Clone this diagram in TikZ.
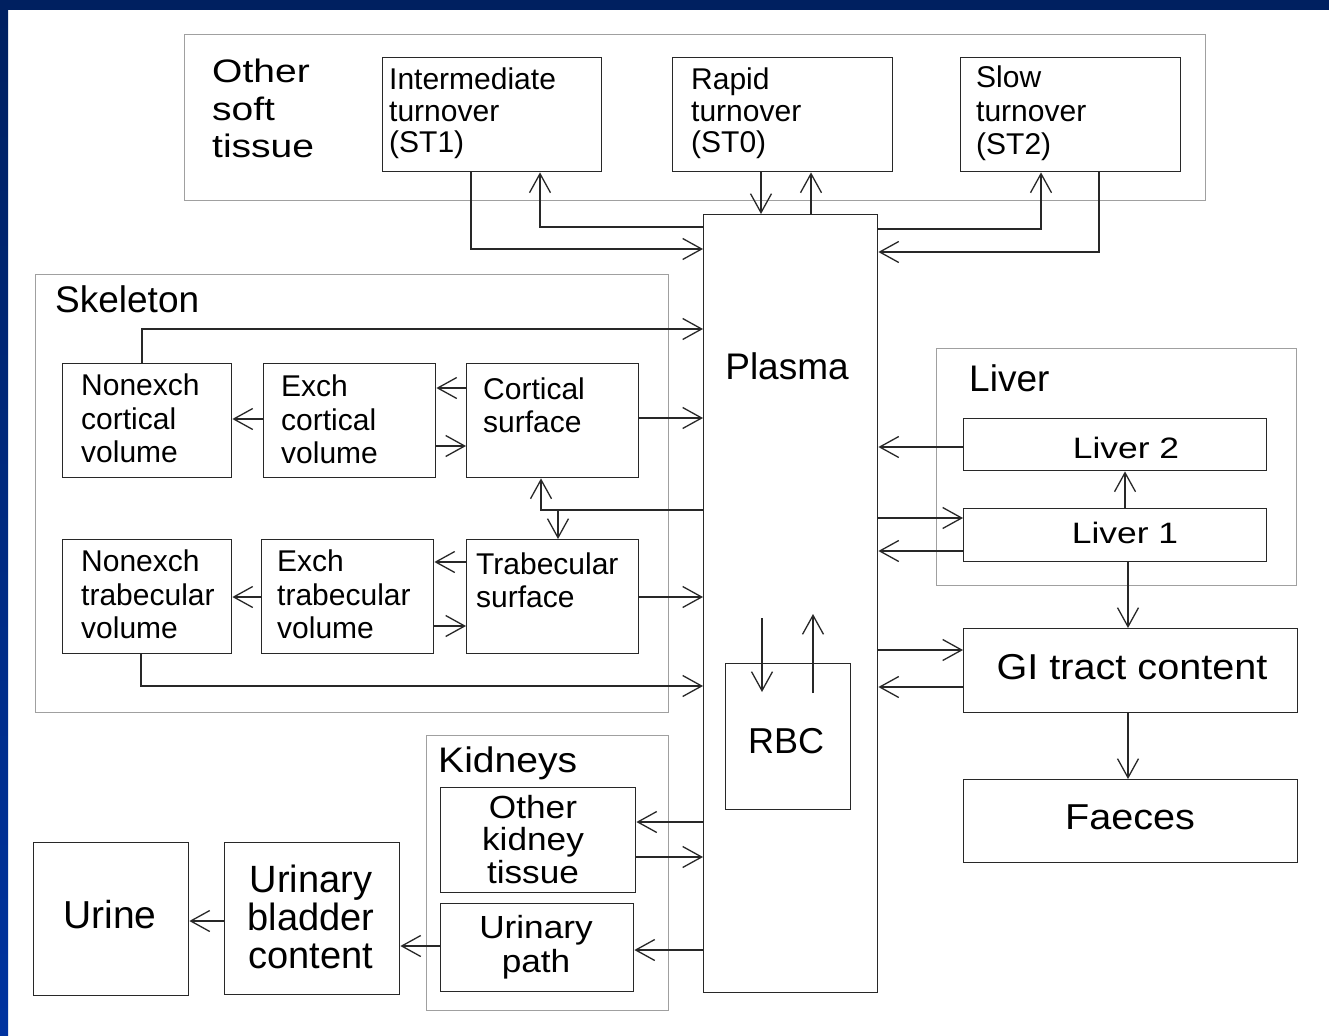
\documentclass[tikz,border=0pt]{standalone}
\usepackage{fontspec}
\setmainfont{Liberation Sans}
\newfontfamily\wideA[FakeStretch=1.1]{Liberation Sans}
\newfontfamily\wideB[FakeStretch=1.2]{Liberation Sans}
\usetikzlibrary{arrows.meta}
\definecolor{navy}{RGB}{0,32,96}
\definecolor{navyb}{RGB}{0,51,160}
\definecolor{grpgray}{RGB}{160,160,160}
\definecolor{ink}{RGB}{40,40,40}
\newcommand\fs[2]{\fontsize{#1}{#2}\selectfont}
\begin{document}
\begin{tikzpicture}[x=1pt,y=-1pt,
  box/.style={draw=ink,line width=1.4pt,inner sep=0pt,anchor=north west},
  grp/.style={draw=grpgray,line width=1.2pt,inner sep=0pt,anchor=north west},
  lbl/.style={inner sep=0pt,anchor=north west,align=left},
  ctr/.style={inner sep=0pt,anchor=north,align=center},
  one/.style={inner sep=0pt,anchor=base},
  onew/.style={inner sep=0pt,anchor=base west},
  arr/.style={draw=ink,line width=1.3pt,-{Straight Barb[length=19pt,width=21pt,line width=1.3pt]}},
  con/.style={draw=ink,line width=1.3pt}]
\useasboundingbox (0,0) rectangle (1329,1035);
\fill[white] (0,0) rectangle (1329,1035);
\shade[top color=navy,bottom color=navyb] (0,0) rectangle (8,1035);
\fill[navy] (0,0) rectangle (1329,10);

% groups
\node[grp,minimum width=1021pt,minimum height=166pt] (ost) at (184,34) {};
\node[grp,minimum width=633pt,minimum height=438pt] (skel) at (35,274) {};
\node[grp,minimum width=360pt,minimum height=237pt] (livg) at (936,348) {};
\node[grp,minimum width=242pt,minimum height=275pt] (kidg) at (426,735) {};

% group titles
\node[lbl,font=\wideB\fs{32.5}{37.5}] (ostt) at (212,59) {Other\\soft\\tissue};
\node[onew,font=\fs{37}{40}] (skelt) at (55,312) {Skeleton};
\node[onew,font=\fs{37}{40}] (livt) at (969,391) {Liver};
\node[onew,font=\wideA\fs{35.5}{40}] (kidt) at (438,772) {Kidneys};

% boxes
\node[box,minimum width=219pt,minimum height=114pt] (st1) at (382,57) {};
\node[box,minimum width=220pt,minimum height=114pt] (st0) at (672,57) {};
\node[box,minimum width=220pt,minimum height=114pt] (st2) at (960,57) {};
\node[box,minimum width=174pt,minimum height=778pt] (plasma) at (703,214) {};
\node[box,minimum width=125pt,minimum height=146pt] (rbc) at (725,663) {};
\node[box,minimum width=169pt,minimum height=114pt] (ncv) at (62,363) {};
\node[box,minimum width=172pt,minimum height=114pt] (ecv) at (263,363) {};
\node[box,minimum width=172pt,minimum height=114pt] (cs) at (466,363) {};
\node[box,minimum width=169pt,minimum height=114pt] (ntv) at (62,539) {};
\node[box,minimum width=172pt,minimum height=114pt] (etv) at (261,539) {};
\node[box,minimum width=172pt,minimum height=114pt] (ts) at (466,539) {};
\node[box,minimum width=303pt,minimum height=52pt] (liv2) at (963,418) {};
\node[box,minimum width=303pt,minimum height=53pt] (liv1) at (963,508) {};
\node[box,minimum width=334pt,minimum height=84pt] (gi) at (963,628) {};
\node[box,minimum width=334pt,minimum height=83pt] (fae) at (963,779) {};
\node[box,minimum width=195pt,minimum height=105pt] (okt) at (440,787) {};
\node[box,minimum width=193pt,minimum height=88pt] (up) at (440,903) {};
\node[box,minimum width=175pt,minimum height=152pt] (ubc) at (224,842) {};
\node[box,minimum width=155pt,minimum height=153pt] (urine) at (33,842) {};

% box texts
\node[lbl,font=\fs{30}{31.5}] (st1t) at (389,68) {Intermediate\\turnover\\(ST1)};
\node[lbl,font=\fs{30}{31.5}] (st0t) at (691,68) {Rapid\\turnover\\(ST0)};
\node[lbl,font=\fs{30}{33.5}] (st2t) at (976,66) {Slow\\turnover\\(ST2)};
\node[one,font=\fs{37}{40}] (plasmat) at (787,379) {Plasma};
\node[one,font=\fs{36}{40}] (rbct) at (786,753) {RBC};
\node[lbl,font=\fs{30}{33.5}] (ncvt) at (81,374) {Nonexch\\cortical\\volume};
\node[lbl,font=\fs{30}{33.5}] (ecvt) at (281,375) {Exch\\cortical\\volume};
\node[lbl,font=\fs{30}{33}] (cst) at (483,378) {Cortical\\surface};
\node[lbl,font=\fs{30}{33.5}] (ntvt) at (81,550) {Nonexch\\trabecular\\volume};
\node[lbl,font=\fs{30}{33.5}] (etvt) at (277,550) {Exch\\trabecular\\volume};
\node[lbl,font=\fs{30}{33}] (tst) at (476,553) {Trabecular\\surface};
\node[one,font=\wideB\fs{29.5}{33}] (liv2t) at (1126,458) {Liver 2};
\node[one,font=\wideB\fs{29.5}{33}] (liv1t) at (1125,543) {Liver 1};
\node[one,font=\wideA\fs{36}{40}] (git) at (1132,679) {GI tract content};
\node[one,font=\wideA\fs{36}{40}] (faet) at (1130,829) {Faeces};
\node[ctr,font=\wideA\fs{32}{32.5}] (oktt) at (533,795) {Other\\kidney\\tissue};
\node[ctr,font=\wideA\fs{32}{34}] (upt) at (536,915) {Urinary\\path};
\node[ctr,font=\fs{38}{38}] (ubct) at (311,865) {Urinary\\bladder\\content};
\node[one,font=\fs{39}{40}] (urinet) at (110,928) {Urine};

% helper coordinates
\coordinate (xa) at (471,0);  \coordinate (ya) at (0,249);
\coordinate (xb) at (540,0);  \coordinate (yb) at (0,227);
\coordinate (xc) at (761,0);  \coordinate (xd) at (811,0);
\coordinate (xe) at (1041,0); \coordinate (ye) at (0,229);
\coordinate (xf) at (1099,0); \coordinate (yf) at (0,252);
\coordinate (xg) at (142,0);  \coordinate (yg) at (0,329);
\coordinate (yh) at (0,418);  \coordinate (yi) at (0,419);
\coordinate (yj) at (0,388);  \coordinate (yk) at (0,446);
\coordinate (xl) at (541,0);  \coordinate (yl) at (0,510);
\coordinate (xm) at (558,0);
\coordinate (yn) at (0,562);  \coordinate (yo) at (0,626);
\coordinate (yp) at (0,597);
\coordinate (xq) at (141,0);  \coordinate (yq) at (0,686);
\coordinate (yr) at (0,447);  \coordinate (xs) at (1125,0);
\coordinate (yt) at (0,518);  \coordinate (yu) at (0,551);
\coordinate (xv) at (1128,0);
\coordinate (yw) at (0,650);  \coordinate (yx) at (0,687);
\coordinate (rbca) at (762,618); \coordinate (rbcb) at (762,692);
\coordinate (rbcc) at (813,693); \coordinate (rbcd) at (813,614);
\coordinate (y1) at (0,822); \coordinate (y2) at (0,857);
\coordinate (y3) at (0,950); \coordinate (y4) at (0,946);
\coordinate (y5) at (0,921);

% soft tissue connectors
\draw[arr] (st1.south -| xa) |- (plasma.west |- ya);
\draw[arr] (plasma.west |- yb) -| (st1.south -| xb);
\draw[arr] (st0.south -| xc) -- (plasma.north -| xc);
\draw[arr] (plasma.north -| xd) -- (st0.south -| xd);
\draw[arr] (plasma.east |- ye) -| (st2.south -| xe);
\draw[arr] (st2.south -| xf) |- (plasma.east |- yf);

% skeleton connectors
\draw[arr] (ncv.north -| xg) |- (plasma.west |- yg);
\draw[arr] (cs.east |- yh) -- (plasma.west |- yh);
\draw[arr] (ecv.west |- yi) -- (ncv.east |- yi);
\draw[arr] (cs.west |- yj) -- (ecv.east |- yj);
\draw[arr] (ecv.east |- yk) -- (cs.west |- yk);
\draw[arr] (plasma.west |- yl) -| (cs.south -| xl);
\draw[arr] (xm |- yl) -- (ts.north -| xm);
\draw[arr] (ts.west |- yn) -- (etv.east |- yn);
\draw[arr] (etv.east |- yo) -- (ts.west |- yo);
\draw[arr] (etv.west |- yp) -- (ntv.east |- yp);
\draw[arr] (ts.east |- yp) -- (plasma.west |- yp);
\draw[arr] (ntv.south -| xq) |- (plasma.west |- yq);

% liver and GI connectors
\draw[arr] (liv2.west |- yr) -- (plasma.east |- yr);
\draw[arr] (liv1.north -| xs) -- (liv2.south -| xs);
\draw[arr] (plasma.east |- yt) -- (liv1.west |- yt);
\draw[arr] (liv1.west |- yu) -- (plasma.east |- yu);
\draw[arr] (liv1.south -| xv) -- (gi.north -| xv);
\draw[arr] (plasma.east |- yw) -- (gi.west |- yw);
\draw[arr] (gi.west |- yx) -- (plasma.east |- yx);
\draw[arr] (gi.south -| xv) -- (fae.north -| xv);

% RBC
\draw[arr] (rbca) -- (rbcb);
\draw[arr] (rbcc) -- (rbcd);

% kidneys
\draw[arr] (plasma.west |- y1) -- (okt.east |- y1);
\draw[arr] (okt.east |- y2) -- (plasma.west |- y2);
\draw[arr] (plasma.west |- y3) -- (up.east |- y3);
\draw[arr] (up.west |- y4) -- (ubc.east |- y4);
\draw[arr] (ubc.west |- y5) -- (urine.east |- y5);
\end{tikzpicture}
\end{document}
